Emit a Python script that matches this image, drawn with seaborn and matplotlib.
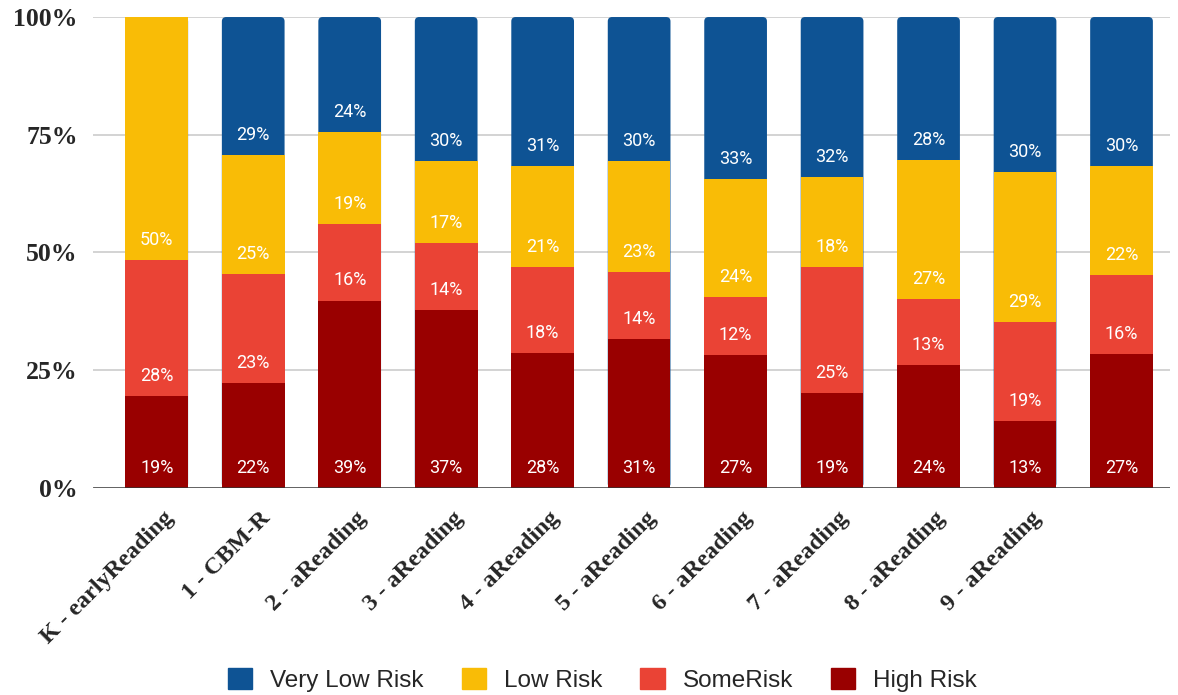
import numpy as np
import pandas as pd
import seaborn as sns
import matplotlib.pyplot as plt
from matplotlib.patches import FancyBboxPatch
from matplotlib.transforms import ScaledTranslation

# bar categories (last one has no tick label in the source)
grades = ["K - earlyReading", "1 - CBM-R", "2 - aReading", "3 - aReading",
          "4 - aReading", "5 - aReading", "6 - aReading", "7 - aReading",
          "8 - aReading", "9 - aReading", " "]

# percentages shown on the bars
high_risk = [19, 22, 39, 37, 28, 31, 27, 19, 24, 13, 27]
some_risk = [28, 23, 16, 14, 18, 14, 12, 25, 13, 19, 16]
low_risk = [50, 25, 19, 17, 21, 23, 24, 18, 27, 29, 22]
very_low_risk = [0, 29, 24, 30, 31, 30, 33, 32, 28, 30, 30]

series = ["High Risk", "SomeRisk", "Low Risk", "Very Low Risk"]
colors = {"Very Low Risk": "#0e5394", "Low Risk": "#f9bc06",
          "SomeRisk": "#ea4335", "High Risk": "#990000"}

df = pd.DataFrame({"grade": grades, "High Risk": high_risk, "SomeRisk": some_risk,
                   "Low Risk": low_risk, "Very Low Risk": very_low_risk})
totals = df[series].sum(axis=1)
shares = df[series].div(totals, axis=0) * 100
cum = shares.cumsum(axis=1)
base = cum - shares

sns.set_style("white")
serif = ["Liberation Serif", "DejaVu Serif"]

fig = plt.figure(figsize=(11.78, 6.95), dpi=100)
ax = fig.add_axes([0.079, 0.298, 0.914, 0.6775])

for y in [25, 50, 75, 100]:
    ax.axhline(y, color="#cccccc", lw=1.2, zorder=0)

# draw cumulative tops from the tallest layer down so they stack
for s in reversed(series):
    sns.barplot(x=df["grade"], y=cum[s], color=colors[s], width=0.65,
                saturation=1, linewidth=0, ax=ax, order=grades, zorder=2)

# round the top corners of the top layer (lower layers cover the bottom ones)
top_bars = list(ax.patches[:len(grades)])
for p in top_bars:
    rb = FancyBboxPatch((p.get_x(), p.get_y()), p.get_width(), p.get_height(),
                        boxstyle="round,pad=0,rounding_size=0.045",
                        mutation_aspect=20.5, facecolor=p.get_facecolor(),
                        linewidth=0, zorder=1.9)
    p.remove()
    ax.add_patch(rb)

for i in range(len(grades)):
    for s in series:
        v = df.loc[i, s]
        if v == 0:
            continue
        ax.text(i, base.loc[i, s] + 4.25, f"{v}%", ha="center", va="center",
                color="white", fontsize=13, family="Roboto", zorder=5)

ax.axhline(0, color="#333333", lw=1.8, zorder=4)
ax.set_ylim(0, 100)
ax.set_xlim(-0.66, 10.5)
ax.set_yticks([0, 25, 50, 75, 100])
ax.set_yticklabels(["0%", "25%", "50%", "75%", "100%"],
                   family=serif, fontweight="bold", fontsize=18.5)
ax.set_xticks(range(len(grades)))
ax.set_xticklabels(grades, rotation=45, ha="right", rotation_mode="anchor",
                   family=serif, fontweight="bold", fontsize=17.5)
ax.tick_params(axis="x", length=0, pad=14)
ax.tick_params(axis="y", length=0, pad=11)
shift = ScaledTranslation(0.06, 0, fig.dpi_scale_trans)
for lab in ax.get_xticklabels():
    lab.set_transform(lab.get_transform() + shift)
ax.set_xlabel("")
ax.set_ylabel("")
sns.despine(ax=ax, left=True, bottom=True, top=True, right=True)

handles = [plt.Rectangle((0, 0), 1, 1, color=colors[s]) for s in reversed(series)]
fig.legend(handles, list(reversed(series)), loc="center", bbox_to_anchor=(0.5115, 0.022),
           ncol=4, frameon=False, prop={"family": "Liberation Sans", "size": 17.5},
           handlelength=1.0, handleheight=1.0, columnspacing=1.56, handletextpad=0.74)

fig.savefig("out.png", dpi=100)
